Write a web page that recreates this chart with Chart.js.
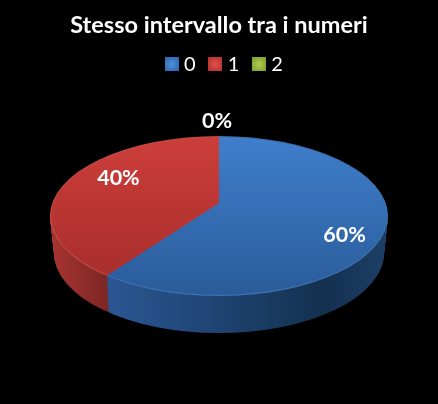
<!DOCTYPE html>
<html>
<head>
<meta charset="utf-8">
<title>Stesso intervallo tra i numeri</title>
<script src="https://cdn.jsdelivr.net/npm/chart.js@4"></script>
<style>
  html, body { margin: 0; padding: 0; background: #000; }
  canvas { display: block; }
</style>
</head>
<body>
<canvas id="pie" width="438" height="404"></canvas>
<script>
const titleText = 'Stesso intervallo tra i numeri';
const categories = ['0', '1', '2'];
const values = [60, 40, 0];
const legendStops = [['#4a8ddb', '#2a62ab'], ['#df4d48', '#b02f2c'], ['#a9c94a', '#7d9a2d']];

// top face and side shading, per slice
const topStops = [['#3f7fcc', '#2a5b9a'], ['#cd3e3a', '#a32c2a'], ['#9bbb3b', '#7d9a2d']];
const rimColors = ['#3c70ad', '#c04a46', '#a6c24e'];
const sideStops = [
  ['#2b5692', '#1f4676', '#14304f', '#1d3e66'],
  ['#a83532', '#9a302d', '#7c2624', '#7c2624'],
  ['#6b8526', '#6b8526', '#6b8526', '#6b8526']
];

// the pie is seen from above: apex sits higher than the middle of the ellipse
const apex = { x: 219, y: 203 };
const squash = 0.47;
const topEllipse = { x: 219, y: 216, rx: 169, ry: 80 };
const depth = 37;
const bottomShrink = 4;
const labelRadius = 132;
const labelNudge = [[0, 0], [25, -19], [-2, -33]];

// small gradient squares for the legend
function legendSwatch(stops) {
  const c = document.createElement('canvas');
  c.width = 14;
  c.height = 14;
  const g = c.getContext('2d');
  const fill = g.createRadialGradient(7, 7, 1, 7, 7, 10);
  fill.addColorStop(0, stops[0]);
  fill.addColorStop(1, stops[1]);
  g.fillStyle = fill;
  g.fillRect(0, 0, 14, 14);
  return c;
}
const swatches = legendStops.map(legendSwatch);

function fakePie3d(chart) {
  const ctx = chart.ctx;
  const arcs = chart.getDatasetMeta(0).data;
  const cx = arcs[0].x, cy = arcs[0].y;
  const k = 240 / arcs[0].outerRadius;
  const localX = x => cx + (x - apex.x) / k;
  const localY = (y, off) => cy + (y - apex.y - off) / (k * squash);

  function drawFace(off, rx, ry, fillFor) {
    ctx.save();
    ctx.beginPath();
    ctx.ellipse(topEllipse.x, topEllipse.y + off, rx, ry, 0, 0, Math.PI * 2);
    ctx.clip();
    ctx.translate(apex.x, apex.y + off);
    ctx.scale(k, k * squash);
    ctx.translate(-cx, -cy);
    arcs.forEach((arc, i) => {
      const saved = arc.options;
      arc.options = Object.assign({}, saved, { backgroundColor: fillFor(i, off), borderWidth: 0 });
      arc.draw(ctx);
      arc.options = saved;
    });
    ctx.restore();
  }

  const sideFill = (i) => {
    const stops = sideStops[i];
    if (i === 1) {
      const reds = ctx.createLinearGradient(localX(50), 0, localX(108), 0);
      reds.addColorStop(0, stops[0]);
      reds.addColorStop(1, stops[3]);
      return reds;
    }
    const g = ctx.createLinearGradient(localX(108), 0, localX(385), 0);
    g.addColorStop(0, stops[0]);
    g.addColorStop(0.35, stops[1]);
    g.addColorStop(0.78, stops[2]);
    g.addColorStop(1, stops[3]);
    return g;
  };

  for (let off = depth; off >= 1; off--) {
    const rx = topEllipse.rx - bottomShrink * off / depth;
    drawFace(off, rx, topEllipse.ry, sideFill);
  }

  drawFace(0, topEllipse.rx, topEllipse.ry, i => rimColors[i]);
  drawFace(0, topEllipse.rx - 1.2, topEllipse.ry - 1.2, (i) => {
    const g = ctx.createLinearGradient(0, localY(136, 0), 0, localY(296, 0));
    g.addColorStop(0, topStops[i][0]);
    g.addColorStop(1, topStops[i][1]);
    return g;
  });
}

const pie3d = {
  id: 'pie3d',
  afterLayout(chart) {
    // legend sits a little right of the title and close under it in the original
    chart.legend.left += 7;
    chart.legend.right += 7;
    chart.legend.top -= 5;
    chart.legend.bottom -= 5;
  },
  beforeDatasetsDraw(chart) {
    fakePie3d(chart);
    return false;
  },
  afterDraw(chart) {
    const ctx = chart.ctx;
    const arcs = chart.getDatasetMeta(0).data;
    ctx.save();
    ctx.font = 'bold 21.5px Lato';
    ctx.fillStyle = '#fff';
    ctx.textAlign = 'center';
    ctx.textBaseline = 'middle';
    arcs.forEach((arc, i) => {
      const mid = (arc.startAngle + arc.endAngle) / 2;
      const x = topEllipse.x + Math.cos(mid) * labelRadius + labelNudge[i][0];
      const y = topEllipse.y + Math.sin(mid) * labelRadius * squash + labelNudge[i][1];
      ctx.fillText(values[i] + '%', x, y);
    });
    ctx.restore();
  }
};

new Chart(document.getElementById('pie'), {
  type: 'pie',
  data: {
    labels: categories,
    datasets: [{ data: values, backgroundColor: legendStops.map(s => s[0]), pointStyle: swatches, borderWidth: 0 }]
  },
  options: {
    responsive: false,
    animation: false,
    layout: { padding: { top: 9, bottom: 10 } },
    plugins: {
      tooltip: { enabled: false },
      title: {
        display: true,
        text: titleText,
        color: '#fff',
        font: { family: 'Lato', size: 23.5, weight: 'bold' },
        padding: { top: 2, bottom: 3 }
      },
      legend: {
        display: true,
        position: 'top',
        labels: {
          color: '#fff',
          font: { family: 'Lato', size: 20 },
          usePointStyle: true,
          pointStyleWidth: 5,
          padding: 17,
          generateLabels(chart) {
            return categories.map((text, i) => ({
              text,
              index: i,
              fontColor: '#fff',
              pointStyle: swatches[i],
              fillStyle: legendStops[i][0],
              strokeStyle: legendStops[i][0],
              lineWidth: 0
            }));
          }
        }
      }
    }
  },
  plugins: [pie3d]
});
</script>
</body>
</html>
